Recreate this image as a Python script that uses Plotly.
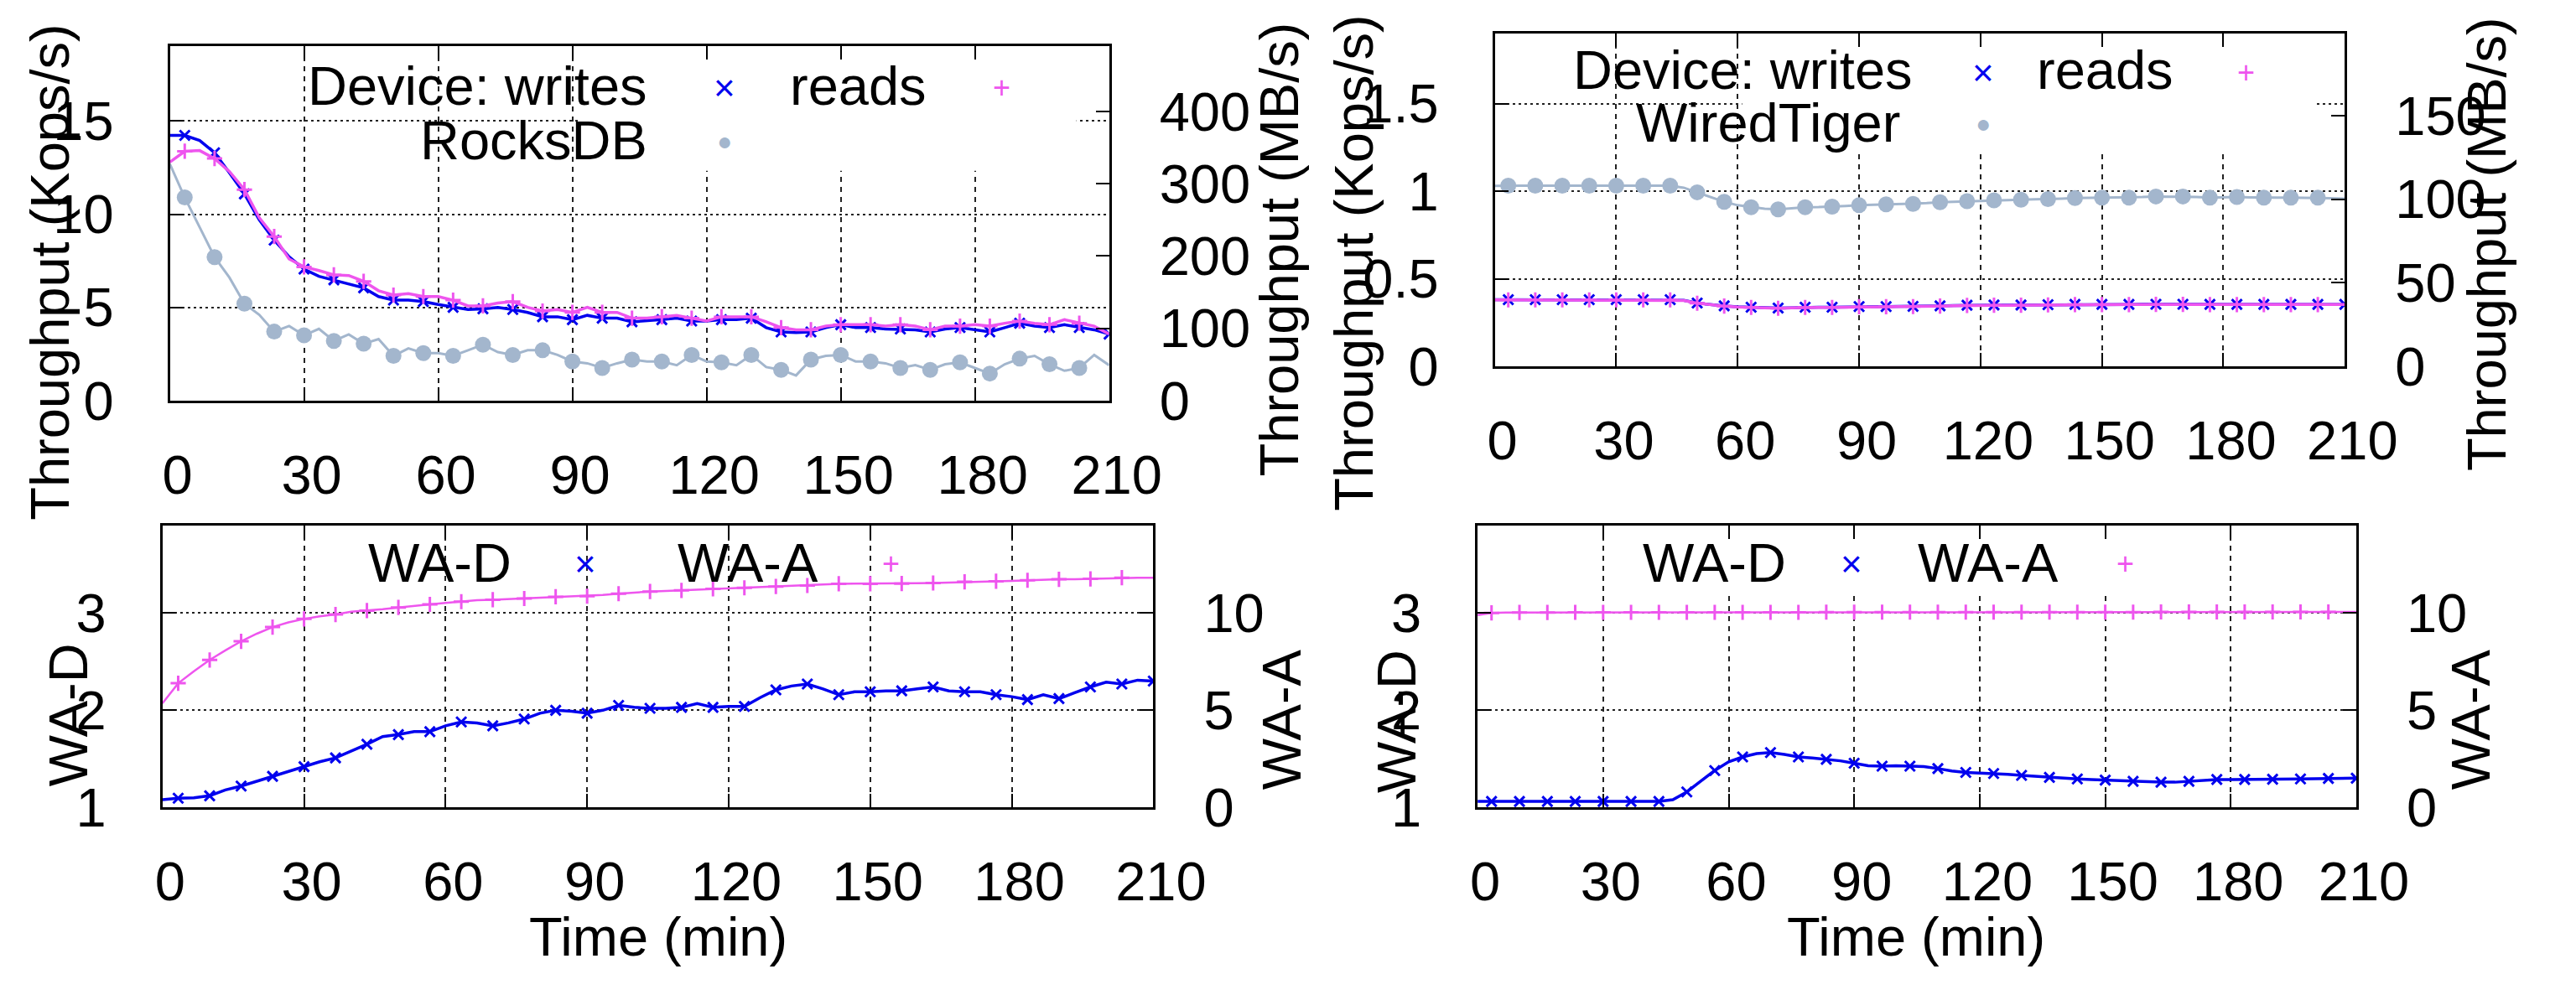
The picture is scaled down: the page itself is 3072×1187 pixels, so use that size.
import plotly.graph_objects as go

W, H = 3072, 1187
FONT = "Liberation Sans, Arial, Helvetica, sans-serif"
FS = 65

# ---------------- data ----------------
time_min = [0, 3.33, 6.67, 10, 13.33, 16.67, 20, 23.33, 26.67, 30, 33.33, 36.67, 40, 43.33,
            46.67, 50, 53.33, 56.67, 60, 63.33, 66.67, 70, 73.33, 76.67, 80, 83.33, 86.67, 90,
            93.33, 96.67, 100, 103.33, 106.67, 110, 113.33, 116.67, 120, 123.33, 126.67, 130,
            133.33, 136.67, 140, 143.33, 146.67, 150, 153.33, 156.67, 160, 163.33, 166.67, 170,
            173.33, 176.67, 180, 183.33, 186.67, 190, 193.33, 196.67, 200, 203.33, 206.67, 210]
x_ticks = [0, 30, 60, 90, 120, 150, 180, 210]

# RocksDB panel (top-left)
rocks_dev_writes_mbs = [367, 367, 360, 343, 315, 286, 250, 222, 199, 182, 172, 167, 161, 156, 144, 139,
                        139, 137, 133, 129, 126, 127, 129, 126, 122, 116, 116, 112, 118, 114, 114, 109,
                        110, 112, 114, 110, 110, 112, 112, 114, 101, 95, 94, 95, 101, 105, 101, 101,
                        99, 99, 98, 95, 99, 101, 98, 95, 101, 107, 103, 101, 105, 101, 98, 92]
rocks_dev_reads_mbs = [330, 345, 346, 335, 317, 292, 253, 227, 196, 185, 180, 174, 173, 165, 152, 146,
                       148, 144, 144, 139, 131, 131, 135, 137, 129, 124, 126, 122, 129, 122, 122, 114,
                       114, 116, 118, 114, 110, 116, 116, 116, 109, 101, 98, 98, 103, 105, 105, 105,
                       103, 105, 103, 98, 103, 103, 105, 103, 107, 110, 107, 105, 112, 107, 103, 92]
rocksdb_kops = [12.7, 10.9, 9.3, 7.7, 6.6, 5.2, 4.6, 3.7, 4.0, 3.5, 3.85, 3.2, 3.55, 3.05, 3.3, 2.4,
                2.8, 2.55, 2.55, 2.4, 2.7, 3.0, 2.6, 2.45, 2.7, 2.7, 2.45, 2.1, 2.0, 1.75, 2.0, 2.2,
                2.1, 2.1, 1.9, 2.45, 2.1, 2.05, 1.9, 2.45, 1.8, 1.65, 1.35, 2.2, 2.4, 2.45, 2.1, 2.1,
                2.0, 1.75, 1.9, 1.65, 1.95, 2.05, 1.75, 1.45, 1.95, 2.25, 2.4, 1.95, 1.6, 1.75, 2.45, 1.9]

# WiredTiger panel (top-right)
wt_dev_writes_mbs = [39.9, 39.9, 39.9, 39.9, 39.9, 39.9, 39.9, 39.9, 39.9, 39.9, 39.9, 39.9, 39.9, 39.9,
                     39.5, 37.9, 37.0, 36.2, 35.7, 35.4, 35.1, 34.9, 35.1, 35.4, 35.4, 35.4, 35.6, 35.8,
                     35.8, 35.8, 35.9, 35.9, 36.0, 36.2, 36.4, 36.6, 36.7, 36.7, 36.7, 36.7, 36.9, 36.9,
                     37.0, 37.1, 37.1, 37.1, 37.1, 37.1, 37.2, 37.2, 37.2, 37.2, 37.1, 37.1, 37.1, 37.1,
                     37.1, 37.1, 37.1, 37.1, 37.1, 37.1, 37.1, 37.1]
wt_dev_reads_mbs = [39.8, 39.8, 39.8, 39.8, 39.8, 39.8, 39.8, 39.8, 39.8, 39.8, 39.8, 39.8, 39.8, 39.8,
                    39.4, 37.8, 36.9, 36.1, 35.6, 35.3, 35.0, 34.8, 35.0, 35.3, 35.3, 35.3, 35.5, 35.7,
                    35.7, 35.7, 35.8, 35.8, 35.9, 36.1, 36.3, 36.5, 36.6, 36.6, 36.6, 36.6, 36.8, 36.8,
                    36.9, 37.0, 37.0, 37.0, 37.0, 37.0, 37.1, 37.1, 37.1, 37.1, 37.0, 37.0, 37.0, 37.0,
                    37.0, 37.0, 37.0, 37.0, 37.0, 37.0, 37.0, 37.0]
wiredtiger_kops = [1.03, 1.032, 1.032, 1.032, 1.032, 1.032, 1.032, 1.032, 1.032, 1.032, 1.032, 1.032,
                   1.032, 1.032, 1.02, 0.994, 0.965, 0.94, 0.92, 0.909, 0.90, 0.897, 0.903, 0.909,
                   0.91, 0.912, 0.916, 0.92, 0.922, 0.925, 0.927, 0.928, 0.932, 0.937, 0.94, 0.943,
                   0.946, 0.948, 0.95, 0.952, 0.954, 0.955, 0.958, 0.961, 0.962, 0.963, 0.963, 0.963,
                   0.967, 0.97, 0.97, 0.97, 0.967, 0.963, 0.965, 0.967, 0.965, 0.963, 0.963, 0.963,
                   0.963, 0.963, 0.96, 0.958]

# Write amplification, RocksDB (bottom-left)
rocks_wa_d = [1.08, 1.095, 1.10, 1.12, 1.18, 1.22, 1.27, 1.32, 1.37, 1.42, 1.47, 1.51, 1.58, 1.65,
              1.73, 1.75, 1.78, 1.78, 1.84, 1.88, 1.87, 1.84, 1.87, 1.91, 1.97, 2.0, 1.99, 1.97,
              2.0, 2.05, 2.03, 2.02, 2.02, 2.03, 2.07, 2.03, 2.04, 2.04, 2.13, 2.21, 2.25, 2.27,
              2.22, 2.16, 2.19, 2.19, 2.2, 2.2, 2.22, 2.24, 2.2, 2.19, 2.19, 2.16, 2.14, 2.11,
              2.16, 2.12, 2.18, 2.24, 2.29, 2.27, 2.31, 2.3]
rocks_wa_a = [5.36, 6.39, 7.01, 7.59, 8.08, 8.55, 8.94, 9.28, 9.52, 9.70, 9.83, 9.93, 10.07, 10.13,
              10.2, 10.29, 10.38, 10.45, 10.52, 10.59, 10.66, 10.69, 10.72, 10.75, 10.8, 10.84,
              10.87, 10.87, 10.93, 11.0, 11.07, 11.11, 11.14, 11.17, 11.22, 11.25, 11.28, 11.3,
              11.34, 11.37, 11.39, 11.42, 11.47, 11.51, 11.51, 11.51, 11.51, 11.52, 11.54, 11.55,
              11.58, 11.61, 11.62, 11.64, 11.66, 11.69, 11.72, 11.74, 11.74, 11.76, 11.79, 11.82,
              11.82, 11.82]

# Write amplification, WiredTiger (bottom-right)
wt_wa_d = [1.062, 1.062, 1.062, 1.062, 1.062, 1.062, 1.062, 1.062, 1.062, 1.062, 1.062, 1.062, 1.062,
           1.062, 1.08, 1.16, 1.27, 1.38, 1.47, 1.52, 1.555, 1.565, 1.545, 1.52, 1.51, 1.495, 1.48,
           1.455, 1.43, 1.425, 1.43, 1.425, 1.42, 1.40, 1.375, 1.36, 1.355, 1.35, 1.34, 1.33, 1.32,
           1.31, 1.30, 1.293, 1.288, 1.282, 1.274, 1.269, 1.266, 1.26, 1.26, 1.269, 1.28, 1.288,
           1.288, 1.288, 1.29, 1.29, 1.293, 1.293, 1.296, 1.299, 1.301, 1.301]
wt_wa_a = [9.9, 10.01, 10.03, 10.03, 10.03, 10.03, 10.03, 10.04, 10.04, 10.04, 10.04, 10.04, 10.04,
           10.04, 10.04, 10.04, 10.04, 10.04, 10.04, 10.04, 10.04, 10.04, 10.04, 10.04, 10.05, 10.05,
           10.05, 10.05, 10.05, 10.05, 10.05, 10.05, 10.05, 10.05, 10.05, 10.05, 10.05, 10.05, 10.05,
           10.05, 10.05, 10.05, 10.05, 10.05, 10.05, 10.05, 10.05, 10.05, 10.06, 10.06, 10.06, 10.06,
           10.06, 10.06, 10.06, 10.06, 10.06, 10.06, 10.06, 10.06, 10.06, 10.06, 10.06, 10.06]

# ---------------- style ----------------
BLUE = "#0000ee"
PINK = "#ee55ee"
GRAY = "#a3b6cd"

fig = go.Figure()


def add_series(xa, ya, values, color, symbol, size, width, all_markers=True):
    # continuous line
    fig.add_trace(go.Scatter(x=time_min, y=values, xaxis=xa, yaxis=ya, mode="lines",
                             line=dict(color=color, width=width), showlegend=False,
                             hoverinfo="skip"))
    # point markers every other sample
    sl = slice(1, None, 2) if all_markers else slice(1, -1, 2)
    mk = dict(symbol=symbol, size=size, color=color)
    if "thin" in symbol:
        mk["line"] = dict(color=color, width=3)
    fig.add_trace(go.Scatter(x=time_min[sl], y=values[sl], xaxis=xa, yaxis=ya, mode="markers",
                             marker=mk, showlegend=False))


# top-left: RocksDB
add_series("x", "y", rocksdb_kops, GRAY, "circle", 19, 3, all_markers=False)
add_series("x", "y2", rocks_dev_writes_mbs, BLUE, "x-thin", 12, 3.5)
add_series("x", "y2", rocks_dev_reads_mbs, PINK, "cross-thin", 13, 3.5, all_markers=False)
# top-right: WiredTiger
add_series("x2", "y3", wiredtiger_kops, GRAY, "circle", 19, 3, all_markers=False)
add_series("x2", "y4", wt_dev_writes_mbs, BLUE, "x-thin", 12, 3.5)
add_series("x2", "y4", wt_dev_reads_mbs, PINK, "cross-thin", 13, 3.5, all_markers=False)
# bottom-left
add_series("x3", "y5", rocks_wa_d, BLUE, "x-thin", 12, 3.5)
add_series("x3", "y6", rocks_wa_a, PINK, "cross-thin", 13, 2.5, all_markers=False)
# bottom-right
add_series("x4", "y7", wt_wa_d, BLUE, "x-thin", 12, 3.5)
add_series("x4", "y8", wt_wa_a, PINK, "cross-thin", 13, 2.5, all_markers=False)


def dx(a, b):
    return [a / W, b / W]


def dy(top, bottom):
    return [1 - bottom / H, 1 - top / H]


tickfont = dict(family=FONT, size=FS, color="black")
common_x = dict(range=[0, 210], tickvals=x_ticks, ticks="inside", ticklen=16, tickwidth=2,
                tickcolor="black", showline=True, linecolor="black", linewidth=3, mirror="ticks",
                showgrid=True, gridcolor="#222222", gridwidth=2, griddash="6px,6px",
                zeroline=False, tickfont=tickfont, ticklabelstandoff=30, ticklabelshift=9)
common_yl = dict(ticks="inside", ticklen=16, tickwidth=2, tickcolor="black", showline=True,
                 linecolor="black", linewidth=3, mirror=True, showgrid=True, gridcolor="#222222",
                 gridwidth=2, griddash="3px,4px", zeroline=False, tickfont=tickfont,
                 ticklabelstandoff=51)
common_yr = dict(ticks="inside", ticklen=16, tickwidth=2, tickcolor="black", showline=True,
                 linecolor="black", linewidth=3, showgrid=False, zeroline=False, side="right",
                 tickfont=tickfont, ticklabelstandoff=44)

panels = {
    # name: (x0, x1, top, bottom)
    "TL": (190, 1337, 49, 485),
    "TR": (1808, 2846, 33, 443),
    "BL": (181, 1391, 639, 986),
    "BR": (1787, 2860, 639, 986),
}

fig.update_layout(
    xaxis=dict(domain=dx(*panels["TL"][:2]), anchor="y", **common_x),
    yaxis=dict(domain=dy(*panels["TL"][2:]), anchor="x", range=[0, 19], tickvals=[0, 5, 10, 15], **common_yl),
    yaxis2=dict(overlaying="y", anchor="x", range=[0, 490], tickvals=[0, 100, 200, 300, 400], **common_yr),
    xaxis2=dict(domain=dx(*panels["TR"][:2]), anchor="y3", **common_x),
    yaxis3=dict(domain=dy(*panels["TR"][2:]), anchor="x2", range=[0, 1.9], tickvals=[0, 0.5, 1, 1.5], **common_yl),
    yaxis4=dict(overlaying="y3", anchor="x2", range=[0, 199], tickvals=[0, 50, 100, 150], **common_yr),
    xaxis3=dict(domain=dx(*panels["BL"][:2]), anchor="y5", **common_x),
    yaxis5=dict(domain=dy(*panels["BL"][2:]), anchor="x3", range=[1, 3.9], tickvals=[1, 2, 3], **common_yl),
    yaxis6=dict(overlaying="y5", anchor="x3", range=[0, 14.5], tickvals=[0, 5, 10], **common_yr),
    xaxis4=dict(domain=dx(*panels["BR"][:2]), anchor="y7", **common_x),
    yaxis7=dict(domain=dy(*panels["BR"][2:]), anchor="x4", range=[1, 3.9], tickvals=[1, 2, 3], **common_yl),
    yaxis8=dict(overlaying="y7", anchor="x4", range=[0, 14.5], tickvals=[0, 5, 10], **common_yr),
    width=W, height=H, autosize=False,
    margin=dict(l=0, r=0, t=0, b=0),
    paper_bgcolor="white", plot_bgcolor="white",
    showlegend=False,
    font=dict(family=FONT, size=FS, color="black"),
)

# opaque key boxes (hide grid behind the key)
fig.add_shape(type="rect", xref="x", yref="y", x0=91.5, x1=202.7, y0=12.33, y1=19,
              fillcolor="white", line=dict(width=0), layer="between")
fig.add_shape(type="rect", xref="x2", yref="y3", x0=61.1, x1=202.3, y0=1.231, y1=1.9,
              fillcolor="white", line=dict(width=0), layer="between")
fig.add_shape(type="rect", xref="x4", yref="y7", x0=57.3, x1=171, y0=3.22, y1=3.9,
              fillcolor="white", line=dict(width=0), layer="between")


def ann(text, x, y, size=FS, color="black", xanchor="center", angle=0):
    fig.add_annotation(text=text, x=x / W, y=1 - y / H, xref="paper", yref="paper",
                       showarrow=False, xanchor=xanchor, yanchor="middle", textangle=angle,
                       font=dict(family=FONT, size=size, color=color))


def key_sym(kind, x, y):
    if kind == "x":
        ann("\u00d7", x, y, size=44, color=BLUE)
    elif kind == "+":
        ann("+", x, y, size=36, color=PINK)
    else:
        ann("\u25cf", x, y, size=30, color=GRAY)


# keys
ann("Device: writes", 775, 98, xanchor="right")
key_sym("x", 867, 100)
ann("reads", 1116, 98, xanchor="right")
key_sym("+", 1206, 100)
ann("RocksDB", 775, 165, xanchor="right")
key_sym("o", 867, 166)

ann("Device: writes", 2320, 78, xanchor="right")
key_sym("x", 2404, 81)
ann("reads", 2639, 78, xanchor="right")
key_sym("+", 2725, 81)
ann("WiredTiger", 2305, 143, xanchor="right")
key_sym("o", 2404, 144)

ann("WA-D", 609, 685, xanchor="right")
key_sym("x", 697, 686)
ann("WA-A", 984, 685, xanchor="right")
key_sym("+", 1071, 686)

ann("WA-D", 2166, 685, xanchor="right")
key_sym("x", 2244, 686)
ann("WA-A", 2499, 685, xanchor="right")
key_sym("+", 2578, 686)

# axis titles
ann("Throughput (Kops/s)", 44, 326, angle=-90)
ann("Throughput (MB/s)", 1545, 299, angle=-90)
ann("Throughput (Kops/s)", 1636, 315, angle=-90)
ann("Throughput (MB/s)", 3020, 292, angle=-90)
ann("WA-D", 66, 872, angle=-90)
ann("WA-A", 1548, 878, angle=-90)
ann("WA-D", 1688, 880, angle=-90)
ann("WA-A", 3000, 878, angle=-90)
ann("Time (min)", 786, 1145)
ann("Time (min)", 2322, 1145)

fig.write_html("out.html")
